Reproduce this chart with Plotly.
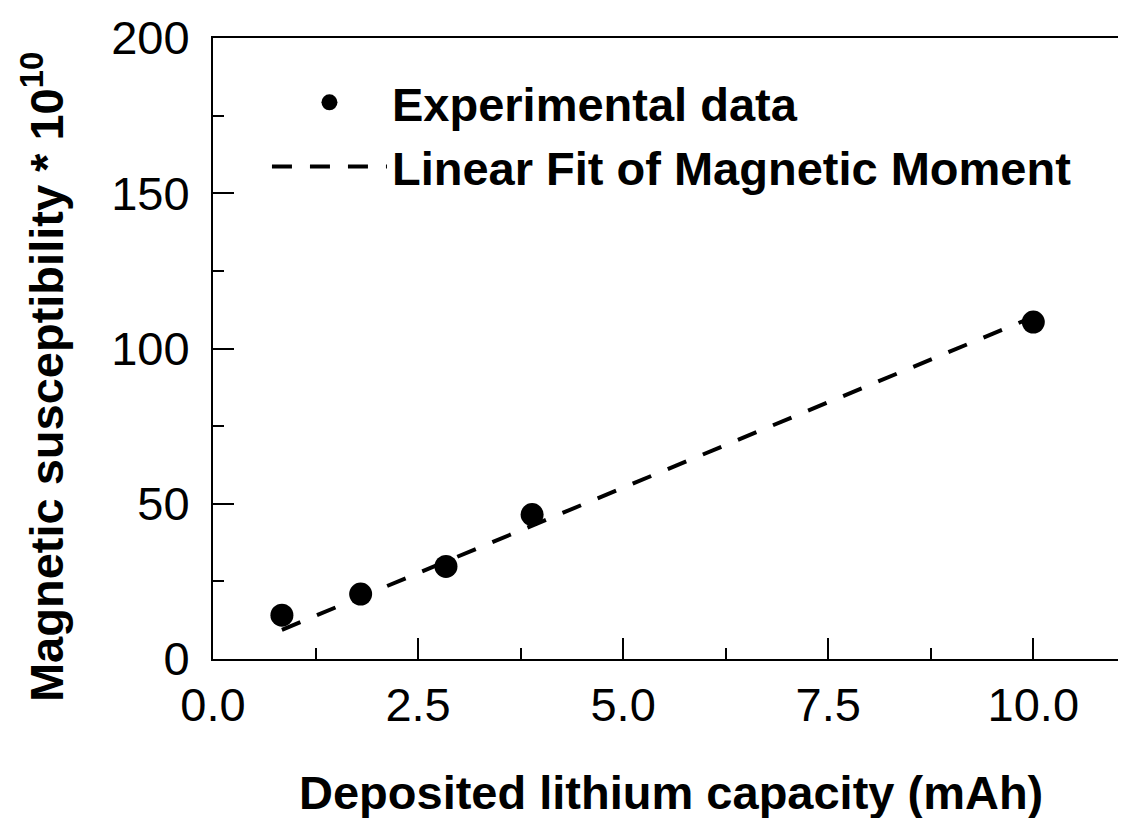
import plotly.graph_objects as go

# Data
capacity_mAh = [0.84, 1.80, 2.84, 3.89, 10.0]
susceptibility = [14.1, 20.9, 29.8, 46.5, 108.5]

fit_x = [0.84, 10.0]
fit_y = [9.4, 110.2]

x_tick_vals = [0, 2.5, 5.0, 7.5, 10.0]
x_tick_text = ["0.0", "2.5", "5.0", "7.5", "10.0"]
y_tick_vals = [0, 50, 100, 150, 200]
y_tick_text = ["0", "50", "100", "150", "200"]

x_title = "<b>Deposited lithium capacity (mAh)</b>"
y_title = "<b>Magnetic susceptibility * 10<sup>10</sup></b>"

FONT = "Liberation Sans, Arial, sans-serif"

fig = go.Figure()
fig.add_trace(go.Scatter(
    x=capacity_mAh, y=susceptibility, mode="markers",
    name="Experimental data",
    marker=dict(color="black", size=23, symbol="circle"),
))
fig.add_trace(go.Scatter(
    x=fit_x, y=fit_y, mode="lines",
    name="Linear Fit of Magnetic Moment",
    line=dict(color="black", width=4, dash="20px,18px"),
))

# page body adds an 8px margin, so the figure is offset to match the window
fig.update_layout(
    width=1118, height=810,
    margin=dict(l=205, r=0, t=30, b=159),
    paper_bgcolor="white", plot_bgcolor="white",
    font=dict(family=FONT, color="black", size=47),
    showlegend=True,
    legend=dict(
        x=0.0591, y=0.956, xanchor="left", yanchor="top",
        bgcolor="rgba(0,0,0,0)",
        font=dict(family=FONT, size=47, color="black", weight="bold"),
        itemwidth=115,
        tracegroupgap=0,
    ),
    xaxis=dict(
        range=[0, 11.13], automargin=False,
        tickmode="array", tickvals=x_tick_vals, ticktext=x_tick_text,
        ticks="inside", ticklen=21, tickwidth=2, tickcolor="black",
        minor=dict(ticks="inside", ticklen=11, tickwidth=2, tickcolor="black", dtick=1.25, tick0=0),
        showline=True, linewidth=2, linecolor="black", mirror=True,
        showgrid=False, zeroline=False,
        ticklabelstandoff=4,
        tickfont=dict(family=FONT, size=47, color="black"),
    ),
    yaxis=dict(
        range=[0, 200], automargin=False,
        tickmode="array", tickvals=y_tick_vals, ticktext=y_tick_text,
        ticks="inside", ticklen=21, tickwidth=2, tickcolor="black",
        minor=dict(ticks="inside", ticklen=11, tickwidth=2, tickcolor="black", dtick=25, tick0=0),
        showline=True, linewidth=2, linecolor="black", mirror=False,
        showgrid=False, zeroline=False,
        ticklabelstandoff=12,
        tickfont=dict(family=FONT, size=47, color="black"),
    ),
    annotations=[
        dict(
            text=y_title, textangle=-90, showarrow=False,
            xref="paper", yref="paper", x=-0.1862, y=0.454,
            xanchor="center", yanchor="middle",
            font=dict(family=FONT, size=47, color="black"),
        ),
        dict(
            text=x_title, showarrow=False,
            xref="paper", yref="paper", x=0.5016, y=-0.2142,
            xanchor="center", yanchor="middle",
            font=dict(family=FONT, size=47, color="black"),
        ),
    ],
)

fig.write_html("out.html")
